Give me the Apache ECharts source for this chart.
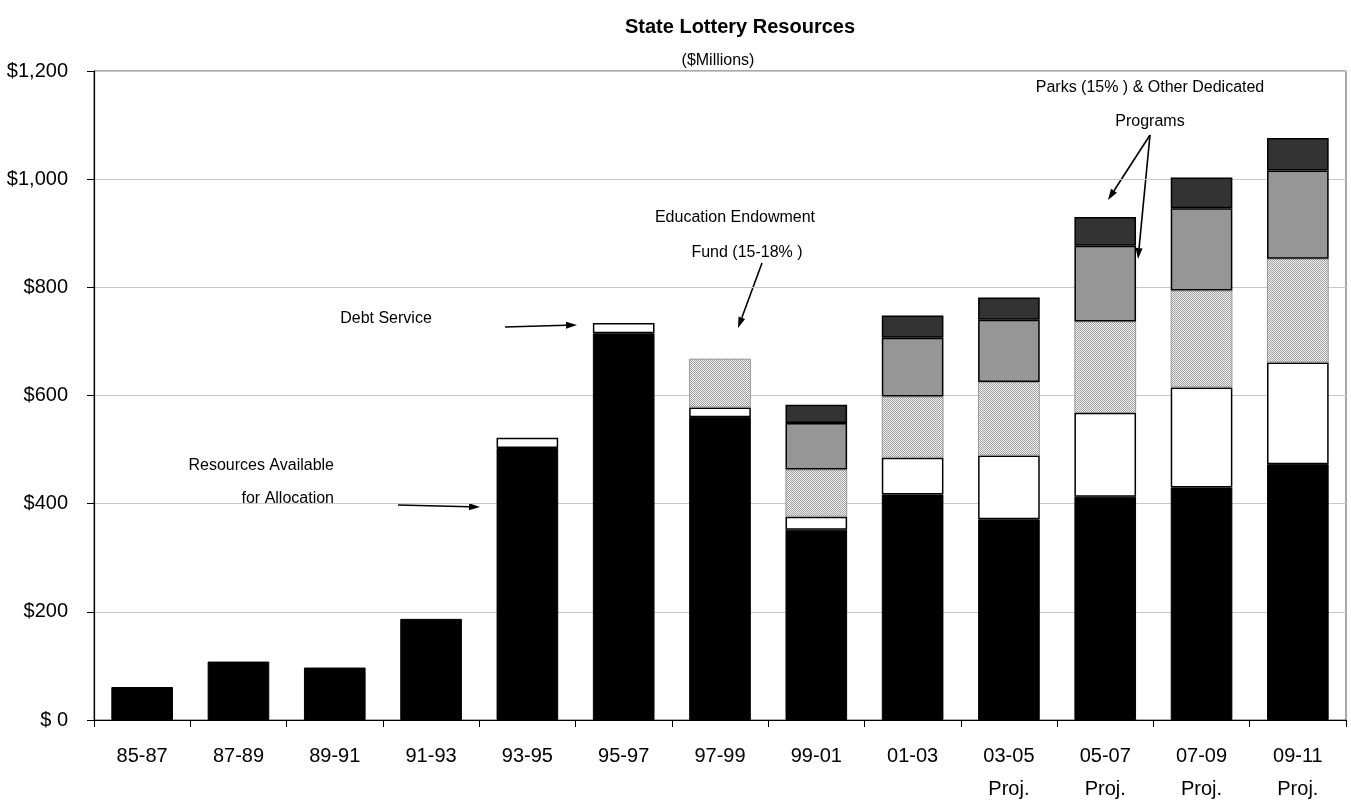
<!DOCTYPE html>
<html>
<head>
<meta charset="utf-8">
<script src="https://cdn.jsdelivr.net/npm/echarts@6/dist/echarts.min.js"></script>
<style>
html,body{margin:0;padding:0;background:#fff;}
#chart{width:1351px;height:800px;}
</style>
</head>
<body>
<div id="chart"></div>
<script>
// ---- data ----
var categories = ['85-87','87-89','89-91','91-93','93-95','95-97','97-99','99-01','01-03','03-05\nProj.','05-07\nProj.','07-09\nProj.','09-11\nProj.'];
var resourcesAvailable = [61, 108, 97, 187, 503, 715, 560, 352, 417, 371, 413, 430, 473];
var debtService        = ['-', '-', '-', '-', 19, 19, 18, 24, 68, 118, 155, 185, 188];
var educationEndowment = ['-', '-', '-', '-', '-', '-', 90, 87, 113, 136, 169, 179, 192];
var parks              = ['-', '-', '-', '-', '-', '-', '-', 86, 109, 115, 140, 152, 163];
var otherDedicated     = ['-', '-', '-', '-', '-', '-', '-', 34, 41, 41, 53, 57, 60];
var yTicks = [0, 200, 400, 600, 800, 1000, 1200];

var FONT = "'Liberation Sans', Arial, sans-serif";

// dotted pattern for Education Endowment
var pc = document.createElement('canvas');
pc.width = 2; pc.height = 2;
var pctx = pc.getContext('2d');
pctx.fillStyle = '#f2f2f2'; pctx.fillRect(0,0,2,2);
pctx.fillStyle = '#a0a0a0'; pctx.fillRect(0,0,1,1); pctx.fillRect(1,1,1,1);

function arrow(x1, y1, x2, y2) {
  var dx = x2 - x1, dy = y2 - y1, L = Math.sqrt(dx*dx + dy*dy);
  var ux = dx / L, uy = dy / L, hl = 11, hw = 3.5;
  var bx = x2 - ux*hl, by = y2 - uy*hl;
  return [
    {type:'line', shape:{x1:x1,y1:y1,x2:bx,y2:by}, style:{stroke:'#000', lineWidth:1.6}, silent:true},
    {type:'polygon', shape:{points:[[x2,y2],[bx - uy*hw, by + ux*hw],[bx + uy*hw, by - ux*hw]]}, style:{fill:'#000'}, silent:true}
  ];
}

function annText(x, y, text, align) {
  return {type:'text', x:x, y:y, silent:true,
    style:{text:text, font:'16px ' + FONT, fill:'#000', textAlign:align || 'center', textVerticalAlign:'middle'}};
}

var graphics = [
  annText(386, 319, 'Debt Service'),
  annText(334, 466, 'Resources Available', 'right'),
  annText(334, 499, 'for Allocation', 'right'),
  annText(735, 218, 'Education Endowment'),
  annText(747, 253, 'Fund (15-18% )'),
  annText(1150, 88, 'Parks (15% ) & Other Dedicated'),
  annText(1150, 122, 'Programs')
];
graphics = graphics
  .concat(arrow(505, 327, 577, 325))
  .concat(arrow(398, 505, 480, 507))
  .concat(arrow(762, 263, 738, 328))
  .concat(arrow(1150, 135, 1108, 200))
  .concat(arrow(1150, 135, 1138, 259));

function barSeries(name, data, color, border, bw) {
  return {
    name: name, type: 'bar', stack: 'total', data: data,
    barCategoryGap: '36%',
    itemStyle: {color: color, borderColor: border, borderWidth: bw},
    emphasis: {disabled: true},
    animation: false
  };
}

var chart = echarts.init(document.getElementById('chart'), null, {renderer:'canvas'});
chart.setOption({
  backgroundColor: '#fff',
  animation: false,
  title: [
    {text:'State Lottery Resources', left:735, top:12, textAlign:'center',
     textStyle:{fontFamily:FONT, fontSize:20, fontWeight:'bold', color:'#000'}},
    {text:'($Millions)', left:713, top:48, textAlign:'center',
     textStyle:{fontFamily:FONT, fontSize:16, fontWeight:'normal', color:'#000'}}
  ],
  grid: {left:94, right:5, top:71, bottom:80, show:true, borderColor:'#555', borderWidth:1,
         containLabel:false, outerBoundsMode:'none'},
  xAxis: {
    type:'category', data: categories,
    axisLine:{lineStyle:{color:'#000', width:1.2}},
    axisTick:{show:true, length:7, lineStyle:{color:'#000'}},
    axisLabel:{fontFamily:FONT, fontSize:20, color:'#000', margin:20, lineHeight:33}
  },
  yAxis: {
    type:'value', min:0, max:1200, interval:200,
    axisLine:{show:true, lineStyle:{color:'#000', width:1.2}},
    axisTick:{show:true, length:7, lineStyle:{color:'#000'}},
    splitLine:{show:true, lineStyle:{color:'#c8c8c8', width:1}},
    axisLabel:{fontFamily:FONT, fontSize:20, color:'#000', margin:26,
      formatter:function(v){ return v === 0 ? '$ 0' : '$' + v.toLocaleString('en-US'); }}
  },
  series: [
    barSeries('Resources Available for Allocation', resourcesAvailable, '#000', '#000', 1),
    barSeries('Debt Service', debtService, '#fff', '#000', 1.5),
    barSeries('Education Endowment Fund (15-18%)', educationEndowment, {image: pc, repeat:'repeat'}, '#888', 0.8),
    barSeries('Parks (15%)', parks, '#969696', '#000', 1.5),
    barSeries('Other Dedicated Programs', otherDedicated, '#333333', '#000', 1.5)
  ],
  graphic: graphics
});
</script>
</body>
</html>
